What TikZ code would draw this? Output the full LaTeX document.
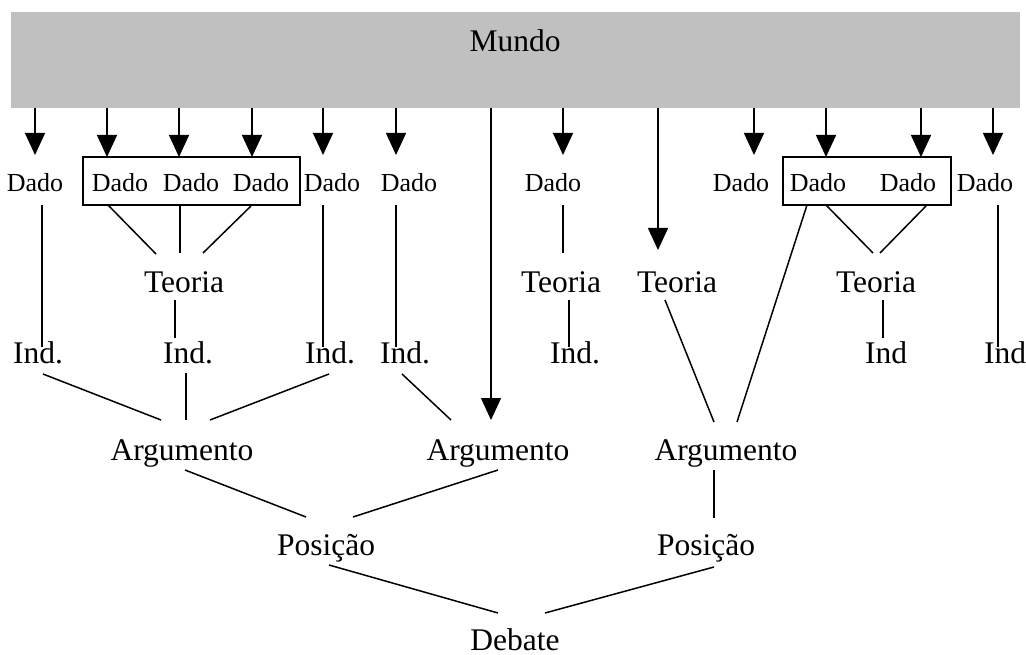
\documentclass[tikz,border=0pt]{standalone}
\usepackage{fontspec}
\setmainfont{Liberation Serif}
\usetikzlibrary{arrows.meta}
\definecolor{mundogray}{RGB}{192,192,192}
\newcommand\bigtxt{\fontsize{31.5}{31.5}\selectfont}
\newcommand\smalltxt{\fontsize{26}{26}\selectfont}
\tikzset{
  lbl/.style={inner sep=0pt, anchor=base, font=\bigtxt},
  dado/.style={inner sep=0pt, anchor=base, font=\smalltxt},
  ln/.style={line width=1.5pt},
  arr/.style={line width=1.5pt, -{Triangle[width=20pt,length=22pt]}},
  grp/.style={draw, line width=1.5pt, inner sep=0pt, minimum height=48pt},
}
\begin{document}
\begin{tikzpicture}[x=1pt,y=-1pt]
\useasboundingbox (0,0) rectangle (1026,655);
% Mundo
\node[fill=mundogray, inner sep=0pt, minimum width=1009pt, minimum height=96pt, anchor=north west] (mundo) at (11,12) {};
\node[lbl] (mundotxt) at (515,52) {Mundo};
% groups
\node[grp, minimum width=217pt] (box1) at (191.5,181) {};
\node[grp, minimum width=168pt] (box2) at (867,181) {};
% Dado row
\node[dado] (d1) at (35,192) {Dado};
\node[dado] (d2) at (120,192) {Dado};
\node[dado] (d3) at (191,192) {Dado};
\node[dado] (d4) at (261,192) {Dado};
\node[dado] (d5) at (332,192) {Dado};
\node[dado] (d6) at (409,192) {Dado};
\node[dado] (d7) at (553,192) {Dado};
\node[dado] (d8) at (741,192) {Dado};
\node[dado] (d9) at (818,192) {Dado};
\node[dado] (d10) at (908,192) {Dado};
\node[dado] (d11) at (985,192) {Dado};
% Teoria row
\node[lbl] (te1) at (184,292) {Teoria};
\node[lbl] (te2) at (561,292) {Teoria};
\node[lbl] (te3) at (677,292) {Teoria};
\node[lbl] (te4) at (876,292) {Teoria};
% Ind row
\node[lbl] (i1) at (38,363) {Ind.};
\node[lbl] (i2) at (188,363) {Ind.};
\node[lbl] (i3) at (330,363) {Ind.};
\node[lbl] (i4) at (405,363) {Ind.};
\node[lbl] (i5) at (575,363) {Ind.};
\node[lbl] (i6) at (886,363) {Ind};
\node[lbl] (i7) at (1005,363) {Ind};
% Argumento row
\node[lbl] (a1) at (182,460) {Argumento};
\node[lbl] (a2) at (498,460) {Argumento};
\node[lbl] (a3) at (726,460) {Argumento};
% Posicao row
\node[lbl] (p1) at (326,555) {Posição};
\node[lbl] (p2) at (706,555) {Posição};
% Debate
\node[lbl] (deb) at (515,650) {Debate};

% arrow tips
\coordinate (t1) at (35,155);
\coordinate (t2) at (107,157);
\coordinate (t3) at (179,157);
\coordinate (t4) at (252,157);
\coordinate (t5) at (323,155);
\coordinate (t6) at (396,155);
\coordinate (tA) at (491,420);
\coordinate (t7) at (563,155);
\coordinate (tB) at (658,250);
\coordinate (t8) at (754,155);
\coordinate (t9) at (826,157);
\coordinate (t10) at (921,157);
\coordinate (t11) at (993,155);
\foreach \t in {t1,t2,t3,t4,t5,t6,tA,t7,tB,t8,t9,t10,t11}
  \draw[arr] (\t |- mundo.south) -- (\t);

% connector end points
\coordinate (b1a) at (108,205); \coordinate (te1a) at (156,254);
\coordinate (b1b) at (180,205); \coordinate (te1b) at (180,253);
\coordinate (b1c) at (251,206); \coordinate (te1c) at (203,253);
\coordinate (te1s) at (175,300); \coordinate (i2n) at (175,338);
\coordinate (d1s) at (42,205); \coordinate (i1n) at (42,347);
\coordinate (d5s) at (323,205); \coordinate (i3n) at (323,347);
\coordinate (d6s) at (396,205); \coordinate (i4n) at (396,347);
\coordinate (d7s) at (563,205); \coordinate (te2n) at (563,253);
\coordinate (te2s) at (569,300); \coordinate (i5n) at (569,347);
\coordinate (te3s) at (665,300); \coordinate (a3a) at (714,422);
\coordinate (b2a) at (807,205); \coordinate (a3b) at (737,422);
\coordinate (b2b) at (826,205); \coordinate (te4a) at (873,253);
\coordinate (b2c) at (926,206); \coordinate (te4b) at (880,253);
\coordinate (te4s) at (883,300); \coordinate (i6n) at (883,338);
\coordinate (d11s) at (998,205); \coordinate (i7n) at (998,347);
\coordinate (i1s) at (43,374); \coordinate (a1a) at (161,420);
\coordinate (i2s) at (186,373); \coordinate (a1b) at (186,420);
\coordinate (i3s) at (329,374); \coordinate (a1c) at (210,420);
\coordinate (i4s) at (402,374); \coordinate (a2a) at (451,420);
\coordinate (a1s) at (185,470); \coordinate (p1a) at (306,517);
\coordinate (a2s) at (498,470); \coordinate (p1b) at (353,517);
\coordinate (a3s) at (714,470); \coordinate (p2n) at (714,518);
\coordinate (p1s) at (329,565); \coordinate (deba) at (498,613);
\coordinate (p2s) at (714,567); \coordinate (debb) at (545,613);

\draw[ln] (b1a) -- (te1a);
\draw[ln] (b1b) -- (te1b);
\draw[ln] (b1c) -- (te1c);
\draw[ln] (te1s) -- (i2n);
\draw[ln] (d1s) -- (i1n);
\draw[ln] (d5s) -- (i3n);
\draw[ln] (d6s) -- (i4n);
\draw[ln] (d7s) -- (te2n);
\draw[ln] (te2s) -- (i5n);
\draw[ln] (te3s) -- (a3a);
\draw[ln] (b2a) -- (a3b);
\draw[ln] (b2b) -- (te4a);
\draw[ln] (b2c) -- (te4b);
\draw[ln] (te4s) -- (i6n);
\draw[ln] (d11s) -- (i7n);
\draw[ln] (i1s) -- (a1a);
\draw[ln] (i2s) -- (a1b);
\draw[ln] (i3s) -- (a1c);
\draw[ln] (i4s) -- (a2a);
\draw[ln] (a1s) -- (p1a);
\draw[ln] (a2s) -- (p1b);
\draw[ln] (a3s) -- (p2n);
\draw[ln] (p1s) -- (deba);
\draw[ln] (p2s) -- (debb);
\end{tikzpicture}
\end{document}
